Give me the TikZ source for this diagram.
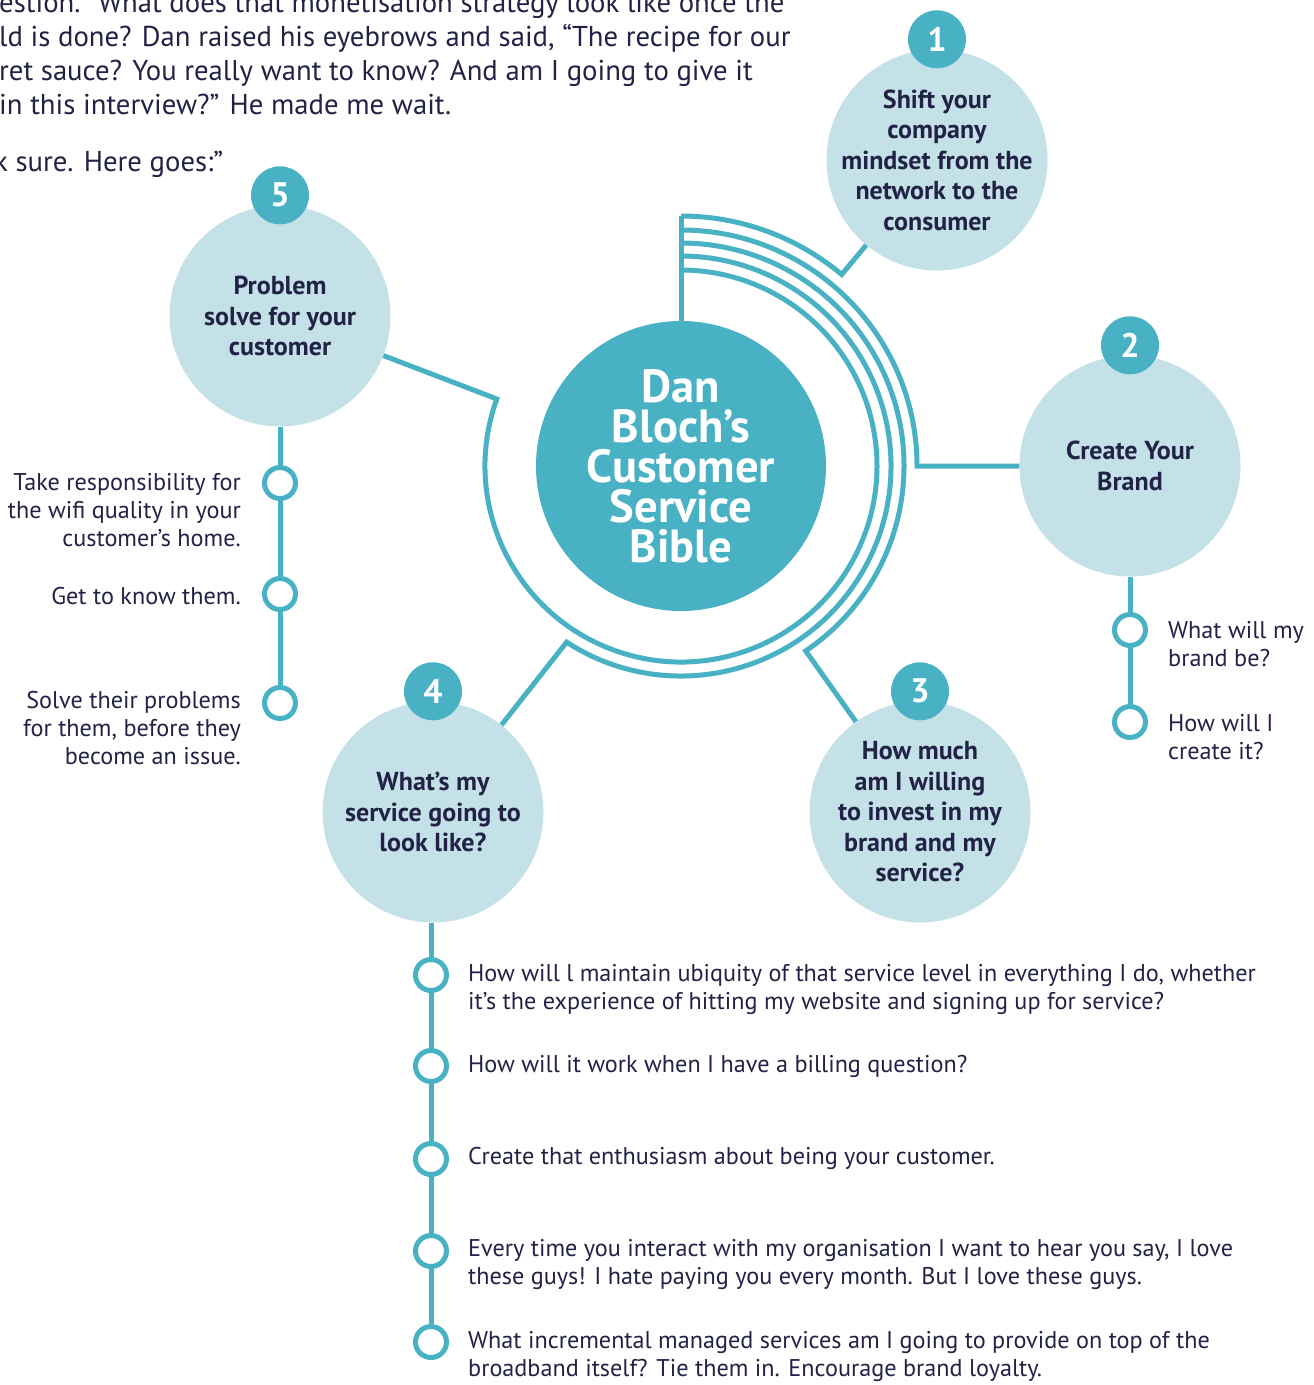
\documentclass[tikz,border=0pt]{standalone}
\usepackage{fontspec}
\setmainfont{PT Sans}
\usetikzlibrary{positioning}
\definecolor{sea}{RGB}{72,177,196}
\definecolor{mist}{RGB}{196,225,231}
\definecolor{ink}{RGB}{33,34,70}
\tikzset{
  link/.style={draw=sea, line width=5pt},
  hub/.style={circle, fill=sea, text=white, minimum size=290pt, inner sep=-20pt,
    align=center, font=\bfseries\fontsize{46.5}{40}\selectfont},
  topic/.style={circle, fill=mist, text=ink, minimum size=221pt, inner sep=-30pt,
    align=center, font=\bfseries\fontsize{26}{30.5}\selectfont},
  badge/.style={circle, fill=sea, text=white, minimum size=58pt, inner sep=0pt,
    font=\bfseries\fontsize{34}{34}\selectfont},
  ring/.style={circle, draw=sea, line width=5pt, fill=white, minimum size=31pt, inner sep=0pt},
  note/.style={text=ink, inner sep=0pt, font=\fontsize{24.2}{28}\selectfont},
  prose/.style={text=ink, inner sep=0pt, align=left, font=\fontsize{28.7}{34}\selectfont},
}
\begin{document}
\begin{tikzpicture}[x=1pt, y=-1pt]
\useasboundingbox (0,0) rectangle (1314,1385);

% running text of the article, cut by the page edge
\node[prose, anchor=north west] (intro) at (-1,-8)
  {estion.~ What does that monetisation strategy look like once the\\
   ld is done? Dan raised his eyebrows and said, “The recipe for our\\
   ret sauce? You really want to know? And am I going to give it\\
   in this interview?” He made me wait.};
\node[prose, anchor=north west] (goes) at (-6,151) {k sure. Here goes:”};

% centre and the five topics
\node[hub] (hub) at (681,466) {Dan\\Bloch’s\\Customer\\Service\\Bible};
\node[topic] (t1) at (937,160) {Shift your\\company\\mindset from the\\network to the\\consumer};
\node[topic] (t2) at (1130,466) {Create Your\\Brand};
\node[topic] (t3) at (920,812) {How much\\am I willing\\to invest in my\\brand and my\\service?};
\node[topic] (t4) at (433,812) {What’s my\\service going to\\look like?};
\node[topic] (t5) at (280,316) {Problem\\solve for your\\customer};
\foreach \i in {1,...,5}
  \node[badge] (b\i) at ([yshift=10pt]t\i.north) {\i};

% nested arcs from the top of the hub out to each topic
\coordinate (c) at (hub.center);
\draw[link] (hub) -- ([shift={(-90:250)}]c);
\foreach \r/\a/\t in {250/-50/t1, 236/0/t2, 223/56/t3, 210/123/t4, 196/200/t5}
  \draw[link] (\t) -- ([shift={(\a:\r)}]c) arc[start angle=\a, end angle=-90, radius=\r];

% 2: brand
\node[ring] (r21) at (1130,630) {};
\node[ring] (r22) at (1130,722) {};
\draw[link] (t2) -- (r21) -- (r22);
\node[note, anchor=west, align=left] (n21) at (1168,644) {What will my\\brand be?};
\node[note, anchor=west, align=left] (n22) at (1168,737) {How will I\\create it?};

% 5: problem solving
\node[ring] (r51) at (280,483) {};
\node[ring] (r52) at (280,594) {};
\node[ring] (r53) at (280,703) {};
\draw[link] (t5) -- (r51) -- (r52) -- (r53);
\node[note, anchor=east, align=right] (n51) at (241,510)
  {Take responsibility for\\the wifi quality in your\\customer’s home.};
\node[note, anchor=east, align=right] (n52) at (241,596) {Get to know them.};
\node[note, anchor=east, align=right] (n53) at (241,728)
  {Solve their problems\\for them, before they\\become an issue.};

% 4: service
\foreach \j/\y in {1/975, 2/1066, 3/1159, 4/1251, 5/1342}
  \node[ring] (r4\j) at (431,\y) {};
\draw[link] (r41 |- t4.south) -- (r41) -- (r42) -- (r43) -- (r44) -- (r45);
\node[note, anchor=west, align=left] (n41) at (468,989)
  {How will l maintain ubiquity of that service level in everything I do, whether\\
   it’s the experience of hitting my website and signing up for service?};
\node[note, anchor=west] (n42) at (468,1066) {How will it work when I have a billing question?};
\node[note, anchor=west] (n43) at (468,1158) {Create that enthusiasm about being your customer.};
\node[note, anchor=west, align=left] (n44) at (468,1264)
  {Every time you interact with my organisation I want to hear you say, I love\\
   these guys! I hate paying you every month. But I love these guys.};
\node[note, anchor=west, align=left] (n45) at (468,1356)
  {What incremental managed services am I going to provide on top of the\\
   broadband itself? Tie them in. Encourage brand loyalty.};
\end{tikzpicture}
\end{document}
